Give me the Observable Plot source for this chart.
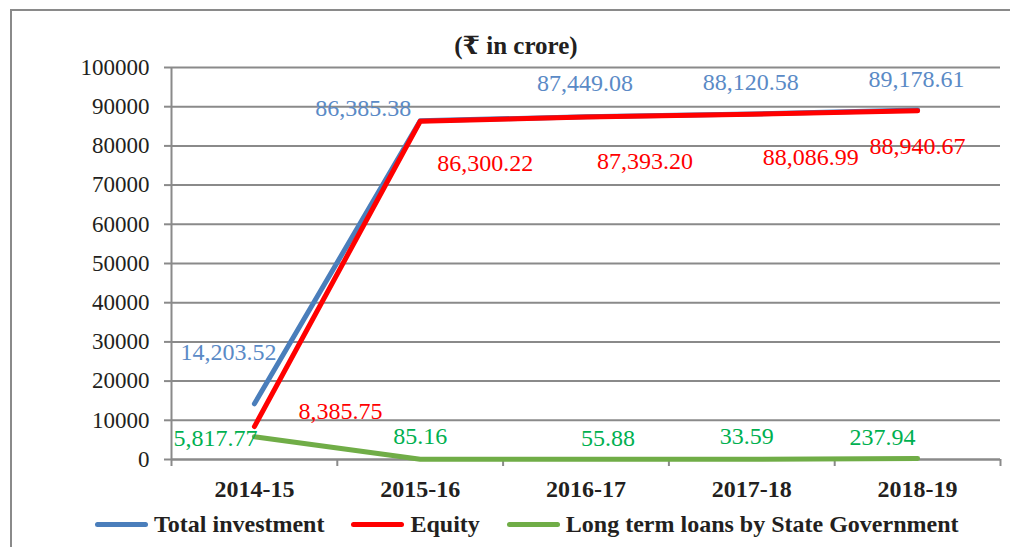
<!DOCTYPE html>
<html><head><meta charset="utf-8">
<script src="https://cdn.jsdelivr.net/npm/d3@7"></script>
<script src="https://cdn.jsdelivr.net/npm/@observablehq/plot@0.6"></script>
<style>
html,body{margin:0;padding:0;background:#fff;overflow:hidden;}
#wrap{position:relative;width:1010px;height:547px;font-family:"Liberation Serif","Times New Roman","DejaVu Serif",serif;color:#231f20;overflow:hidden;}
#frame{position:absolute;left:10px;top:9px;width:1100px;height:700px;border:2px solid #8a8a8a;}
#title{position:absolute;left:0;width:1032px;top:33px;line-height:25px;text-align:center;font-weight:bold;font-size:25px;}
#chart{position:absolute;left:0;top:0;}
#legend{position:absolute;left:95px;top:511px;display:flex;align-items:center;font-weight:bold;font-size:24px;line-height:26px;}
.item{display:flex;align-items:center;margin-right:27px;}
.sw{display:inline-block;width:53px;height:5px;border-radius:3px;margin-right:6px;}
</style></head>
<body>
<div id="wrap">
  <div id="frame"></div>
  <div id="chart"></div>
  <div id="title">(₹ in crore)</div>
  <div id="legend"></div>
</div>
<script>
const years = ["2014-15", "2015-16", "2016-17", "2017-18", "2018-19"];
const totalInvestment = [14203.52, 86385.38, 87449.08, 88120.58, 89178.61];
const equity = [8385.75, 86300.22, 87393.20, 88086.99, 88940.67];
const longTermLoans = [5817.77, 85.16, 55.88, 33.59, 237.94];
const seriesNames = ["Total investment", "Equity", "Long term loans by State Government"];
const yTicks = [0, 10000, 20000, 30000, 40000, 50000, 60000, 70000, 80000, 90000, 100000];

// styling (not data)
const lineColors = ["#4a7ebb", "#ff0000", "#70ad47"];
const labelColors = ["#5a8ac6", "#ff0000", "#00b050"];
const labelNudges = [
  [[-26, -52], [-57, -13], [-1, -33], [-1, -32], [-1, -31]],
  [[86, -15], [65, 42], [59, 44], [59, 43], [0, 35]],
  [[-39, 2], [0, -23], [22, -21], [-5, -23], [-35, -21]]
];

const seriesValues = [totalInvestment, equity, longTermLoans];
const rows = [];
seriesValues.forEach((vals, s) => vals.forEach((v, i) => rows.push({series: seriesNames[s], s, i, x: i + 0.5, year: years[i], value: v})));

const fmt = d3.format(",.2f");
const gray = "#8a8a8a";
const font = `"Liberation Serif","Times New Roman",serif`;

const labelMarks = rows.map(r => Plot.text([r], {
  x: "x", y: "value", text: d => fmt(d.value),
  dx: labelNudges[r.s][r.i][0], dy: labelNudges[r.s][r.i][1],
  fill: labelColors[r.s], fontSize: 24, textAnchor: "middle", fontFamily: font
}));

const chart = Plot.plot({
  width: 1010, height: 547,
  marginTop: 67, marginBottom: 88, marginLeft: 171, marginRight: 10,
  style: {fontFamily: font, background: "transparent", overflow: "visible"},
  x: {type: "linear", domain: [0, years.length], axis: null},
  y: {domain: [0, 100000], axis: null},
  color: {domain: seriesNames, range: lineColors},
  marks: [
    Plot.gridY(yTicks, {stroke: gray, strokeOpacity: 1, strokeWidth: 2}),
    Plot.axisY({ticks: yTicks, tickSize: 7, tickFormat: () => "", label: null, stroke: gray, strokeWidth: 2}),
    Plot.axisY({ticks: yTicks, tickSize: 0, tickPadding: 22, label: null, tickFormat: d => String(d), fontSize: 23, fill: "#231f20"}),
    Plot.axisX({ticks: d3.range(0, years.length + 1), tickSize: 7, label: null, tickFormat: () => "", stroke: gray, strokeWidth: 2}),
    Plot.axisX({ticks: years.map((_, i) => i + 0.5), tickSize: 0, tickPadding: 20, label: null, tickFormat: d => years[Math.round(d - 0.5)], fontSize: 24, fontWeight: "bold", fill: "#231f20"}),
    Plot.ruleX([0], {stroke: gray, strokeWidth: 2}),
    Plot.ruleY([0], {stroke: gray, strokeWidth: 2}),
    Plot.lineY(rows, {x: "x", y: "value", z: "series", stroke: "series", strokeWidth: 5, strokeLinecap: "round", strokeLinejoin: "round"}),
    ...labelMarks
  ]
});
document.getElementById("chart").appendChild(chart);

const legend = document.getElementById("legend");
seriesNames.forEach((name, s) => {
  const item = document.createElement("div");
  item.className = "item";
  const sw = document.createElement("span");
  sw.className = "sw";
  sw.style.background = lineColors[s];
  const t = document.createElement("span");
  t.textContent = name;
  item.appendChild(sw); item.appendChild(t);
  legend.appendChild(item);
});
</script>
</body></html>
